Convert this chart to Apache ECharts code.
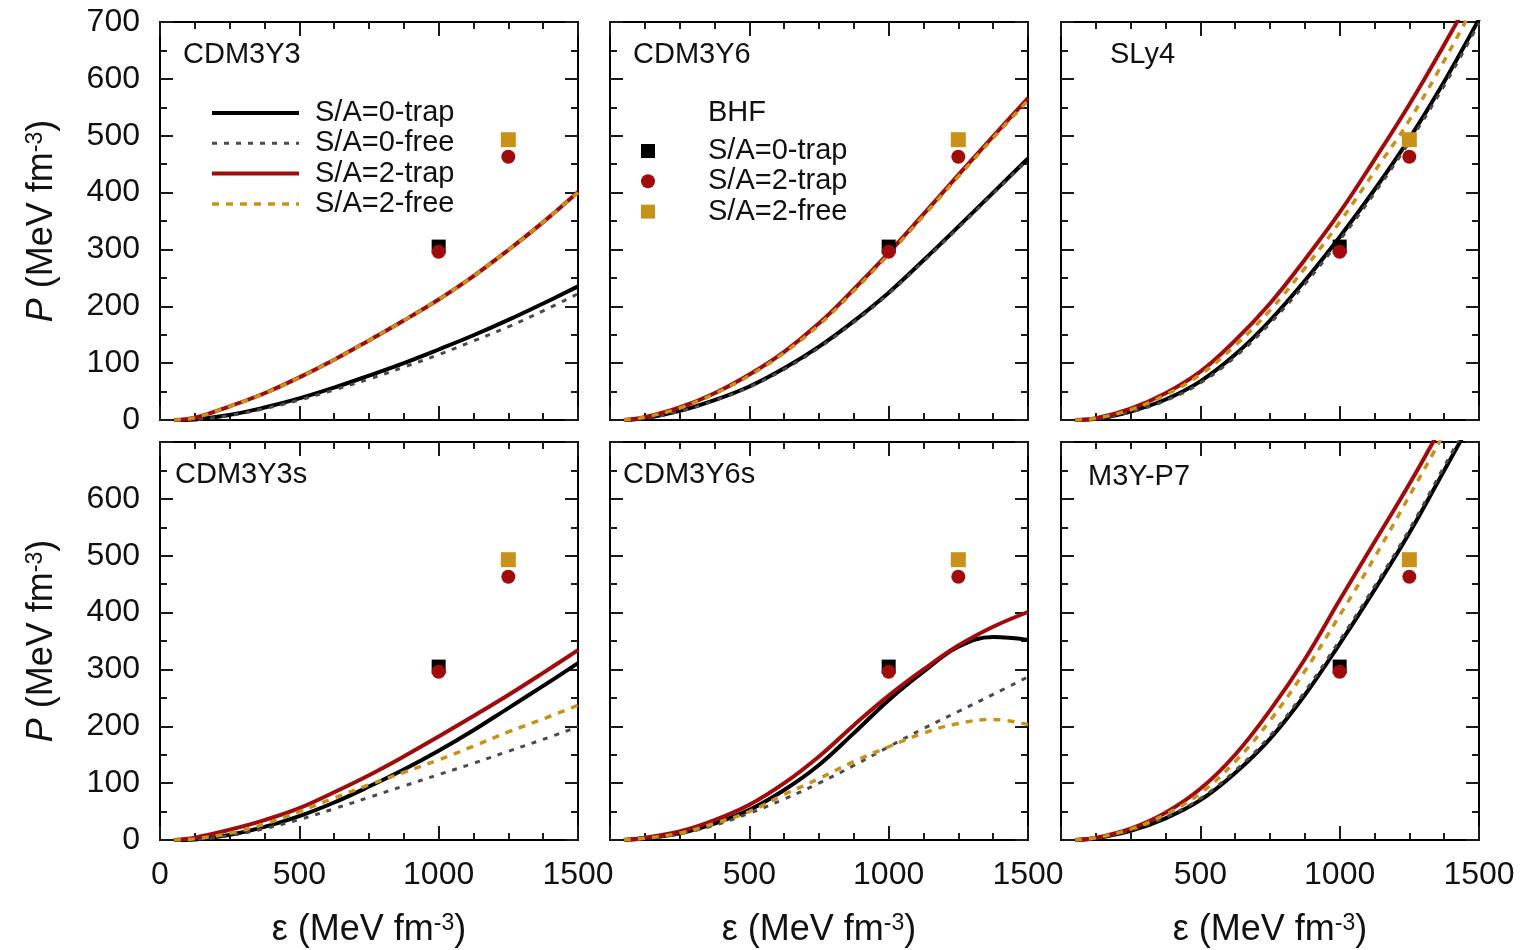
<!DOCTYPE html>
<html>
<head>
<meta charset="utf-8">
<script src="https://cdn.jsdelivr.net/npm/echarts@6/dist/echarts.min.js"></script>
<style>
  html, body { margin: 0; padding: 0; background: #fff; }
  #chart { width: 1532px; height: 950px; }
</style>
</head>
<body>
<div id="chart"></div>
<script>
// Energy density grid (MeV fm^-3) shared by every EOS curve
const eps = [50, 125, 250, 375, 500, 625, 750, 875, 1000, 1125, 1250, 1375, 1500];

// Pressure P (MeV fm^-3) for each interaction; trap = neutrino-trapped, free = neutrino-free
const CDM3Y3_0trap = [0, 1, 9, 22, 38, 57, 78, 100, 124, 149, 176, 205, 235];
const CDM3Y3_0free = [0, 1, 8, 20, 35, 53, 72, 93, 115, 139, 164, 192, 222];
const CDM3Y3_2trap = [0, 4, 24, 47, 75, 106, 140, 175, 212, 253, 299, 348, 401];
const CDM3Y3_2free = [0, 4, 24, 47, 75, 106, 140, 175, 212, 253, 299, 348, 400];

const CDM3Y6_0trap = [0, 3, 16, 35, 59, 91, 129, 174, 224, 281, 340, 400, 460];
const CDM3Y6_0free = [0, 3, 15, 34, 58, 89, 127, 172, 222, 279, 338, 398, 458];
const CDM3Y6_2trap = [0, 5, 22, 47, 80, 120, 170, 230, 294, 362, 431, 499, 566];
const CDM3Y6_2free = [0, 5, 21, 46, 78, 118, 167, 227, 291, 359, 428, 496, 562];

const SLy4_0trap = [0, 2, 15, 36, 68, 115, 175, 245, 322, 405, 495, 595, 705];
const SLy4_0free = [0, 2, 14, 34, 65, 111, 170, 239, 316, 399, 489, 588, 698];
const SLy4_2trap = [0, 3, 20, 47, 85, 140, 205, 282, 365, 458, 555, 660, 770];
const SLy4_2free = [0, 3, 18, 44, 80, 131, 193, 267, 348, 437, 527, 632, 745];

const CDM3Y3s_0trap = [0, 1, 9, 23, 42, 66, 94, 124, 157, 193, 232, 271, 311];
const CDM3Y3s_0free = [0, 1, 8, 20, 36, 55, 75, 95, 115, 135, 156, 177, 199];
const CDM3Y3s_2trap = [0, 4, 18, 35, 56, 84, 114, 147, 182, 218, 255, 294, 334];
const CDM3Y3s_2free = [0, 2, 12, 28, 50, 74, 97, 119, 141, 165, 190, 213, 237];

const CDM3Y6s_0trap = [0, 3, 12, 29, 53, 88, 132, 188, 246, 296, 340, 357, 352];
const CDM3Y6s_0free = [0, 3, 11, 26, 47, 72, 100, 131, 164, 196, 226, 256, 287];
const CDM3Y6s_2trap = [0, 4, 15, 35, 62, 100, 147, 202, 254, 300, 342, 375, 401];
const CDM3Y6s_2free = [0, 3, 12, 29, 50, 80, 108, 138, 164, 188, 205, 212, 203];

const M3YP7_0trap = [0, 3, 16, 38, 70, 118, 178, 255, 345, 440, 540, 650, 760];
const M3YP7_0free = [0, 3, 17, 40, 73, 122, 183, 261, 351, 446, 546, 657, 768];
const M3YP7_2trap = [0, 4, 20, 48, 90, 150, 228, 318, 422, 524, 626, 735, 845];
const M3YP7_2free = [0, 4, 19, 45, 82, 138, 210, 297, 395, 497, 605, 715, 825];

// BHF reference points (same in every panel)
const bhf0trapEps = [1000];
const bhf0trapP = [305];
const bhf2trapEps = [1000, 1250];
const bhf2trapP = [296, 463];
const bhf2freeEps = [1250];
const bhf2freeP = [493];

const panelNames = ['CDM3Y3', 'CDM3Y6', 'SLy4', 'CDM3Y3s', 'CDM3Y6s', 'M3Y-P7'];
const panelCurves = [
  [CDM3Y3_0trap, CDM3Y3_0free, CDM3Y3_2trap, CDM3Y3_2free],
  [CDM3Y6_0trap, CDM3Y6_0free, CDM3Y6_2trap, CDM3Y6_2free],
  [SLy4_0trap, SLy4_0free, SLy4_2trap, SLy4_2free],
  [CDM3Y3s_0trap, CDM3Y3s_0free, CDM3Y3s_2trap, CDM3Y3s_2free],
  [CDM3Y6s_0trap, CDM3Y6s_0free, CDM3Y6s_2trap, CDM3Y6s_2free],
  [M3YP7_0trap, M3YP7_0free, M3YP7_2trap, M3YP7_2free]
];
const curveNames = ['S/A=0-trap', 'S/A=0-free', 'S/A=2-trap', 'S/A=2-free'];

const FONT = '"Liberation Sans", Arial, sans-serif';
const INK = '#111';
const C_BLACK = '#000000';
const C_GRAY = '#4a4a4a';
const C_RED = '#a00c0c';
const C_GOLD = '#c8921a';

const curveStyles = [
  { color: C_BLACK, width: 4, type: 'solid' },
  { color: C_GRAY, width: 3, type: [5, 7] },
  { color: C_RED, width: 4, type: 'solid' },
  { color: C_GOLD, width: 3.5, type: [7, 7] }
];

const colLeft = [160, 610, 1061];
const rowTop = [22, 442];
const PW = 418, PH = 398;

const zip = (xs, ys) => xs.map((x, i) => [x, ys[i]]);

const grids = [], xAxes = [], yAxes = [], series = [], titles = [];

const tickStyle = { color: '#1a1a1a', width: 2 };
const frameLine = { show: true, onZero: false, lineStyle: { color: '#000', width: 2 } };

const nameRich = {
  it: { fontStyle: 'italic', fontSize: 36, fontFamily: FONT, color: INK },
  sup: { fontSize: 23, fontFamily: FONT, color: INK, verticalAlign: 'top', lineHeight: 22 }
};

for (let g = 0; g < 6; g++) {
  const col = g % 3, row = Math.floor(g / 3);
  grids.push({ left: colLeft[col], top: rowTop[row], width: PW, height: PH, containLabel: false });

  const bottomRow = row === 1;
  const leftCol = col === 0;

  // bottom x axis
  xAxes.push({
    type: 'value', gridIndex: g, position: 'bottom', min: 0, max: 1500, interval: 500,
    axisLine: frameLine,
    axisTick: { show: true, inside: true, length: 14, lineStyle: tickStyle },
    minorTick: { show: true, splitNumber: 4, length: 7, lineStyle: tickStyle },
    splitLine: { show: false },
    axisLabel: bottomRow ? {
      show: true, fontSize: 32, fontFamily: FONT, color: INK, margin: 19,
      formatter: v => (col > 0 && v === 0) ? '' : String(v)
    } : { show: false },
    name: bottomRow ? 'ε (MeV fm{sup|-3})' : '',
    nameLocation: 'middle', nameGap: 72,
    nameTextStyle: { fontSize: 36, fontFamily: FONT, color: INK, rich: nameRich }
  });
  // top mirror axis
  xAxes.push({
    type: 'value', gridIndex: g, position: 'top', min: 0, max: 1500, interval: 500,
    axisLine: frameLine,
    axisTick: { show: true, inside: true, length: 14, lineStyle: tickStyle },
    minorTick: { show: true, splitNumber: 4, length: 7, lineStyle: tickStyle },
    splitLine: { show: false },
    axisLabel: { show: false }
  });
  // left y axis
  yAxes.push({
    type: 'value', gridIndex: g, position: 'left', min: 0, max: 700, interval: 100,
    axisLine: frameLine,
    axisTick: { show: true, inside: true, length: 13, lineStyle: tickStyle },
    minorTick: { show: true, splitNumber: 2, length: 7, lineStyle: tickStyle },
    splitLine: { show: false },
    axisLabel: leftCol ? {
      show: true, fontSize: 32, fontFamily: FONT, color: INK, margin: 20,
      formatter: v => (bottomRow && v === 700) ? '' : String(v)
    } : { show: false },
    name: leftCol ? '{it|P} (MeV fm{sup|-3})' : '',
    nameLocation: 'middle', nameGap: 100, nameRotate: 90,
    nameTextStyle: { fontSize: 36, fontFamily: FONT, color: INK, rich: nameRich }
  });
  // right mirror axis
  yAxes.push({
    type: 'value', gridIndex: g, position: 'right', min: 0, max: 700, interval: 100,
    axisLine: frameLine,
    axisTick: { show: true, inside: true, length: 13, lineStyle: tickStyle },
    minorTick: { show: true, splitNumber: 2, length: 7, lineStyle: tickStyle },
    splitLine: { show: false },
    axisLabel: { show: false }
  });

  // EOS curves
  panelCurves[g].forEach((vals, k) => {
    series.push({
      type: 'line', name: curveNames[k], xAxisIndex: 2 * g, yAxisIndex: 2 * g,
      data: zip(eps, vals), symbol: 'none', showSymbol: false,
      smooth: 0.4, clip: true,
      lineStyle: curveStyles[k], itemStyle: { color: curveStyles[k].color },
      z: 2 + k, silent: true, animation: false
    });
  });

  // BHF points
  series.push({
    type: 'scatter', name: 'BHF S/A=0-trap', xAxisIndex: 2 * g, yAxisIndex: 2 * g,
    data: zip(bhf0trapEps, bhf0trapP), symbol: 'rect', symbolSize: 14,
    itemStyle: { color: C_BLACK, opacity: 1 }, z: 10, animation: false
  });
  series.push({
    type: 'scatter', name: 'BHF S/A=2-trap', xAxisIndex: 2 * g, yAxisIndex: 2 * g,
    data: zip(bhf2trapEps, bhf2trapP), symbol: 'circle', symbolSize: 14,
    itemStyle: { color: C_RED, opacity: 1 }, z: 11, animation: false
  });
  series.push({
    type: 'scatter', name: 'BHF S/A=2-free', xAxisIndex: 2 * g, yAxisIndex: 2 * g,
    data: zip(bhf2freeEps, bhf2freeP), symbol: 'rect', symbolSize: 15,
    itemStyle: { color: C_GOLD, opacity: 1 }, z: 11, animation: false
  });
}

// panel labels
const labelPos = [[183, 40], [633, 40], [1110, 40], [175, 460], [623, 460], [1088, 462]];
panelNames.forEach((n, i) => {
  titles.push({
    text: n, left: labelPos[i][0], top: labelPos[i][1], padding: 0,
    textStyle: { fontSize: 29, fontWeight: 'normal', fontFamily: FONT, color: INK }
  });
});
titles.push({
  text: 'BHF', left: 708, top: 98, padding: 0,
  textStyle: { fontSize: 29, fontWeight: 'normal', fontFamily: FONT, color: INK }
});

const option = {
  backgroundColor: '#fff',
  animation: false,
  title: titles,
  grid: grids,
  xAxis: xAxes,
  yAxis: yAxes,
  legend: [
    {
      data: curveNames, orient: 'vertical', left: 210, top: 98, padding: 0,
      itemWidth: 87, itemHeight: 2, itemGap: 0.3, selectedMode: false,
      itemStyle: { opacity: 0 },
      lineStyle: { width: 'inherit', type: 'inherit' },
      textStyle: { fontSize: 29, fontFamily: FONT, color: INK, lineHeight: 30, padding: [0, 0, 0, 11] }
    },
    {
      data: ['BHF S/A=0-trap', 'BHF S/A=2-trap', 'BHF S/A=2-free'],
      orient: 'vertical', left: 641, top: 136, padding: 0,
      itemWidth: 14, itemHeight: 14, itemGap: 0.3, selectedMode: false,
      itemStyle: { opacity: 1 },
      formatter: n => n.replace('BHF ', ''),
      textStyle: { fontSize: 29, fontFamily: FONT, color: INK, lineHeight: 30, padding: [0, 0, 0, 48] }
    }
  ],
  series: series
};

const chart = echarts.init(document.getElementById('chart'), null, { renderer: 'canvas' });
chart.setOption(option);
</script>
</body>
</html>
